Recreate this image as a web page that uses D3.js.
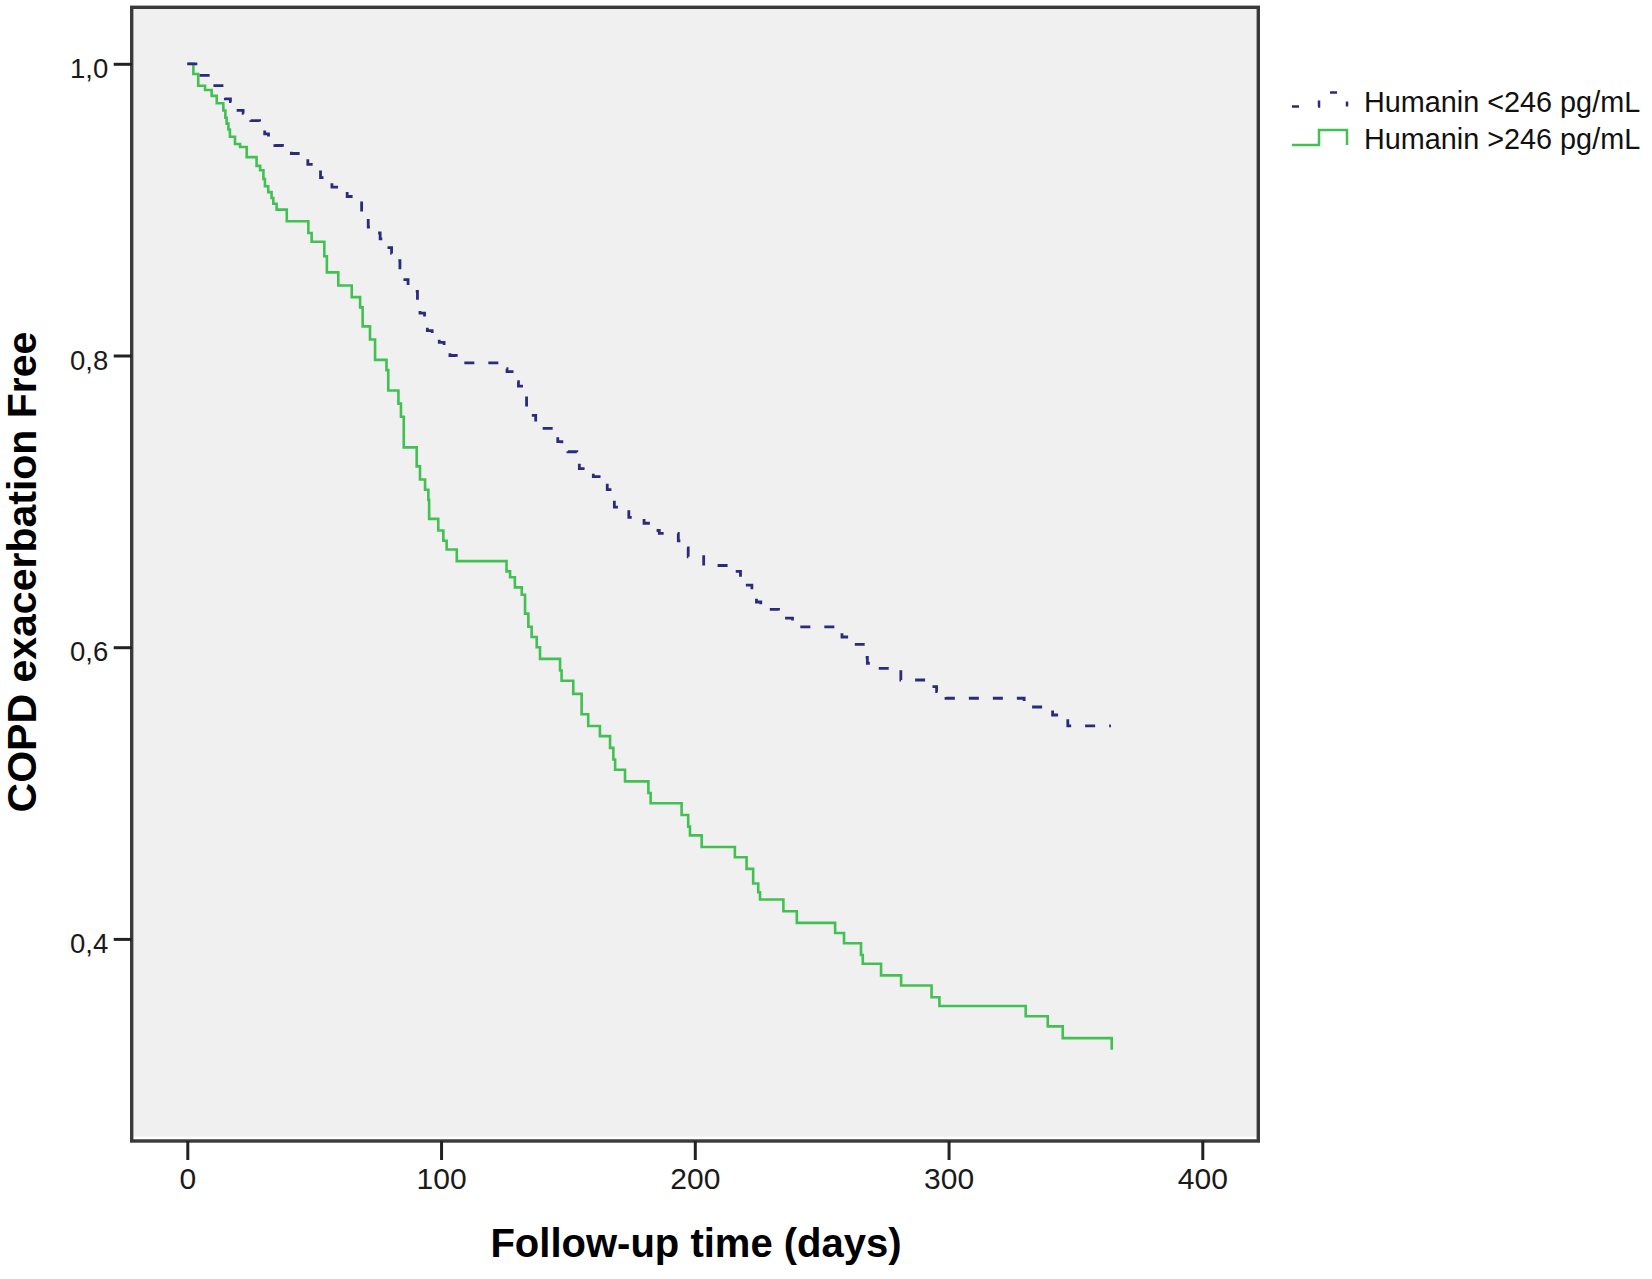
<!DOCTYPE html>
<html>
<head>
<meta charset="utf-8">
<script src="https://cdn.jsdelivr.net/npm/d3@7"></script>
<style>
  html, body { margin: 0; padding: 0; background: #ffffff; }
  svg { display: block; font-family: "Liberation Sans", Arial, sans-serif; }
</style>
</head>
<body>
<svg id="chart" width="1652" height="1279"></svg>
<script>
// ---------------- data ----------------
const seriesNames = ["Humanin <246 pg/mL", "Humanin >246 pg/mL"];

const xTicks = [0, 100, 200, 300, 400];
const yTicks = [0.4, 0.6, 0.8, 1.0];

// Humanin <246 pg/mL (dashed) — step corners
const lowTimes = [0, 4, 10, 15, 17, 20, 22, 25, 28.5, 30.5, 32, 34.5, 37.5, 41, 47.5, 50, 52.5, 54.2,
  57, 60, 63, 67, 68.7, 69.7, 71.3, 73, 76, 78.6, 80.5, 82.5, 83.8, 84.8, 87, 89.7, 90.7, 91.7,
  93.5, 94.6, 96.5, 99.3, 101.2, 103.5, 106, 123.5, 126, 128, 130.5, 132.3, 133.7, 135.5, 137.3,
  139.5, 146, 147.6, 150, 153.5, 154.5, 160, 162.3, 165.5, 167.2, 168.3, 170.5, 174, 176.7, 180,
  182.5, 186, 193.5, 195.8, 197.4, 203.5, 215.5, 218, 220, 222.5, 224.3, 226, 233, 235.5, 238.5,
  255.5, 258, 261.5, 266.4, 268, 270.8, 281.2, 293.5, 295.3, 299, 329.8, 341, 343.6, 347, 364];
const lowSurv = [1.0, 0.992, 0.985, 0.976, 0.974, 0.968, 0.966, 0.961, 0.959, 0.952, 0.949, 0.944,
  0.942, 0.9385, 0.931, 0.930, 0.922, 0.919, 0.9155, 0.913, 0.909, 0.908, 0.897, 0.895, 0.888,
  0.884, 0.880, 0.874, 0.870, 0.865, 0.858, 0.852, 0.847, 0.844, 0.834, 0.829, 0.824, 0.817, 0.813,
  0.809, 0.8025, 0.800, 0.795, 0.791, 0.789, 0.782, 0.779, 0.772, 0.766, 0.759, 0.7545, 0.750,
  0.741, 0.7385, 0.734, 0.733, 0.7225, 0.717, 0.713, 0.708, 0.704, 0.696, 0.694, 0.689, 0.688,
  0.685, 0.680, 0.678, 0.673, 0.668, 0.662, 0.656, 0.652, 0.646, 0.6425, 0.637, 0.631, 0.626,
  0.622, 0.620, 0.614, 0.610, 0.607, 0.602, 0.593, 0.589, 0.5855, 0.5775, 0.573, 0.5695, 0.565,
  0.559, 0.5535, 0.551, 0.546, 0.546];

// Humanin >246 pg/mL (solid)
const highTimes = [0, 2.4, 4.3, 7.0, 9.6, 11.6, 14.2, 15.0, 15.5, 16.2, 16.8, 18.8, 20.8, 23.4, 27.3,
  28.7, 30.0, 30.6, 31.9, 33.2, 33.9, 35.2, 39.2, 47.7, 49.0, 54.0, 55.0, 59.5, 64.8, 68.1, 69.1,
  72.0, 74.0, 78.5, 79.2, 83.2, 84.2, 85.3, 90.4, 91.7, 93.7, 95.0, 95.3, 98.9, 100.9, 102.2, 106.2,
  125.8, 127.2, 129.1, 131.8, 133.1, 134.4, 135.7, 137.7, 139.0, 146.9, 147.5, 152.1, 155.4, 158.0,
  162.6, 166.6, 167.9, 168.6, 172.5, 181.7, 182.6, 194.8, 197.4, 198.1, 202.7, 215.8, 220.4, 223.0,
  225.0, 225.7, 234.9, 240.2, 255.3, 258.8, 265.5, 266.2, 273.4, 281.3, 293.3, 296.4, 330.4, 339.1,
  345.0, 364.3];
const highSurv = [1.0, 0.993, 0.985, 0.982, 0.978, 0.973, 0.968, 0.963, 0.959, 0.955, 0.950, 0.945,
  0.943, 0.936, 0.930, 0.927, 0.921, 0.916, 0.912, 0.908, 0.904, 0.900, 0.892, 0.884, 0.878, 0.868,
  0.857, 0.848, 0.840, 0.833, 0.820, 0.811, 0.797, 0.790, 0.776, 0.767, 0.758, 0.737, 0.724, 0.715,
  0.708, 0.701, 0.688, 0.680, 0.673, 0.667, 0.659, 0.652, 0.648, 0.641, 0.636, 0.623, 0.614, 0.607,
  0.600, 0.592, 0.584, 0.577, 0.568, 0.554, 0.546, 0.539, 0.531, 0.523, 0.516, 0.508, 0.500, 0.493,
  0.485, 0.477, 0.471, 0.463, 0.456, 0.448, 0.438, 0.432, 0.427, 0.419, 0.411, 0.404, 0.397, 0.389,
  0.383, 0.375, 0.368, 0.360, 0.354, 0.347, 0.340, 0.332, 0.324];

// ---------------- layout ----------------
const frame = { left: 131.7, right: 1258.3, top: 7.3, bottom: 1141 };
const colLow = "#2b2b7c";
const colHigh = "#41c152";

const svg = d3.select("#chart");

const x = d3.scaleLinear().domain([0, 400]).range([187.3, 1202.3]);
const y = d3.scaleLinear().domain([0.4, 1.0]).range([938.9, 63.8]);

// plot area background
svg.append("rect")
  .attr("x", frame.left).attr("y", frame.top)
  .attr("width", frame.right - frame.left).attr("height", frame.bottom - frame.top)
  .attr("fill", "#f0f0f0");

// subtle inner highlight along bottom edge
svg.append("line")
  .attr("x1", frame.left + 2).attr("x2", frame.right - 2)
  .attr("y1", frame.bottom - 3.2).attr("y2", frame.bottom - 3.2)
  .attr("stroke", "#ffffff").attr("stroke-width", 2);

// curves
const line = d3.line()
  .x(d => x(d[0]))
  .y(d => y(d[1]))
  .curve(d3.curveStepAfter);

const lowData = lowTimes.map((t, i) => [t, lowSurv[i]]);
const highData = highTimes.map((t, i) => [t, highSurv[i]]);

svg.append("path")
  .datum(highData)
  .attr("d", line)
  .attr("fill", "none")
  .attr("stroke", colHigh)
  .attr("stroke-width", 2.6);

svg.append("path")
  .datum(lowData)
  .attr("d", line)
  .attr("fill", "none")
  .attr("stroke", colLow)
  .attr("stroke-width", 2.8)
  .attr("stroke-dasharray", "10,14");

// frame
svg.append("rect")
  .attr("x", frame.left).attr("y", frame.top)
  .attr("width", frame.right - frame.left).attr("height", frame.bottom - frame.top)
  .attr("fill", "none")
  .attr("stroke", "#3a3a3a")
  .attr("stroke-width", 3.4);

// y axis
const fmt = d => d3.format(".1f")(d).replace(".", ",");
const yAxis = d3.axisLeft(y)
  .tickValues(yTicks)
  .tickFormat(fmt)
  .tickSize(18)
  .tickSizeOuter(0)
  .tickPadding(5.5);

const gy = svg.append("g")
  .attr("transform", `translate(${frame.left},0)`)
  .call(yAxis);
gy.select(".domain").remove();
gy.selectAll(".tick line").attr("stroke", "#222").attr("stroke-width", 3);
gy.selectAll(".tick text")
  .attr("font-family", "'Liberation Sans', Arial, sans-serif")
  .attr("font-size", 27.5)
  .attr("fill", "#1a1a1a")
  .attr("dy", "0.5em");

// x axis
const xAxis = d3.axisBottom(x)
  .tickValues(xTicks)
  .tickFormat(d3.format("d"))
  .tickSize(19)
  .tickSizeOuter(0)
  .tickPadding(8);

const gx = svg.append("g")
  .attr("transform", `translate(0,${frame.bottom})`)
  .call(xAxis);
gx.select(".domain").remove();
gx.selectAll(".tick line").attr("stroke", "#222").attr("stroke-width", 3);
gx.selectAll(".tick text")
  .attr("font-family", "'Liberation Sans', Arial, sans-serif")
  .attr("font-size", 30)
  .attr("fill", "#1a1a1a");

// axis titles
svg.append("text")
  .attr("transform", "translate(36,572) rotate(-90)")
  .attr("text-anchor", "middle")
  .attr("font-size", 41)
  .attr("font-weight", "bold")
  .attr("fill", "#000")
  .text("COPD exacerbation Free");

svg.append("text")
  .attr("x", 696).attr("y", 1257)
  .attr("text-anchor", "middle")
  .attr("font-size", 40)
  .attr("font-weight", "bold")
  .attr("fill", "#000")
  .text("Follow-up time (days)");

// legend
const legendRows = [
  { name: seriesNames[0], color: colLow, dash: "7,19", base: 106.5, top: 92.5, textY: 111.5 },
  { name: seriesNames[1], color: colHigh, dash: null, base: 145, top: 130, textY: 148.5 }
];
const lg = svg.append("g");
legendRows.forEach(r => {
  const p = d3.path();
  p.moveTo(1292, r.base);
  p.lineTo(1319, r.base);
  p.lineTo(1319, r.top);
  p.lineTo(1347, r.top);
  p.lineTo(1347, r.base);
  const el = lg.append("path")
    .attr("d", p.toString())
    .attr("fill", "none")
    .attr("stroke", r.color)
    .attr("stroke-width", 2.5);
  if (r.dash) el.attr("stroke-dasharray", r.dash);
  lg.append("text")
    .attr("x", 1364).attr("y", r.textY)
    .attr("font-size", 28.8)
    .attr("fill", "#111")
    .text(r.name);
});
</script>
</body>
</html>
